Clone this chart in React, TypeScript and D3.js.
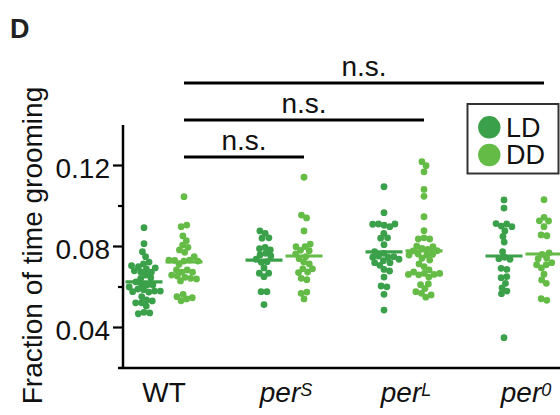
import React, { useMemo } from "react";
import * as d3 from "d3";

// categories
const groups = ["WT", "perS", "perL", "per0"];
const groupBase = ["WT", "per", "per", "per"];
const groupSup = ["", "S", "L", "0"];
const conditions = ["LD", "DD"];

// fraction of time grooming, LD flies
const wtLD = [0.0893, 0.0814, 0.0774, 0.075, 0.0723, 0.0714, 0.0705, 0.07, 0.0694, 0.0689, 0.068, 0.0674, 0.0673, 0.0659, 0.0646, 0.0643, 0.0625, 0.0615, 0.061, 0.061, 0.06, 0.059, 0.0587, 0.058, 0.058, 0.0577, 0.0575, 0.0552, 0.0536, 0.0531, 0.0522, 0.0522, 0.0506, 0.0475, 0.0472, 0.0468];
const perSLD = [0.0877, 0.0865, 0.0841, 0.0843, 0.0783, 0.0789, 0.0796, 0.0758, 0.0766, 0.0753, 0.0737, 0.0722, 0.0725, 0.0694, 0.0668, 0.0668, 0.0651, 0.0577, 0.0577, 0.0513];
const perLLD = [0.1095, 0.0967, 0.0905, 0.0898, 0.0911, 0.091, 0.0911, 0.0865, 0.0841, 0.0843, 0.0809, 0.0774, 0.0766, 0.0747, 0.075, 0.0747, 0.0753, 0.073, 0.072, 0.0737, 0.0707, 0.072, 0.0687, 0.0679, 0.0649, 0.0605, 0.0601, 0.0564, 0.0486];
const per0LD = [0.103, 0.099, 0.0911, 0.0901, 0.0898, 0.0913, 0.0877, 0.085, 0.0822, 0.0774, 0.074, 0.0747, 0.0737, 0.0692, 0.0687, 0.0646, 0.0651, 0.0618, 0.0595, 0.058, 0.0567, 0.035];

// fraction of time grooming, DD flies
const wtDD = [0.1046, 0.0898, 0.0906, 0.0852, 0.0829, 0.0807, 0.0796, 0.0783, 0.0771, 0.075, 0.0733, 0.0731, 0.0728, 0.0733, 0.0728, 0.0712, 0.0684, 0.0673, 0.0673, 0.0684, 0.0659, 0.0654, 0.0648, 0.0643, 0.064, 0.063, 0.0552, 0.0541, 0.0564, 0.0547, 0.0532];
const perSDD = [0.1142, 0.0955, 0.0941, 0.0877, 0.0812, 0.0799, 0.0781, 0.0779, 0.0799, 0.075, 0.0763, 0.074, 0.0723, 0.0714, 0.069, 0.069, 0.0671, 0.0674, 0.0643, 0.0636, 0.0569, 0.0575, 0.0541];
const perLDD = [0.1219, 0.1199, 0.1169, 0.1082, 0.1048, 0.0947, 0.0878, 0.0837, 0.0843, 0.0837, 0.0802, 0.0799, 0.0791, 0.0786, 0.0779, 0.0778, 0.0758, 0.0763, 0.0758, 0.0761, 0.0742, 0.0733, 0.0714, 0.07, 0.0685, 0.0674, 0.066, 0.0662, 0.0649, 0.0667, 0.0662, 0.0667, 0.0611, 0.0615, 0.0592, 0.0577, 0.0569, 0.0561, 0.055];
const per0DD = [0.1031, 0.0944, 0.0927, 0.0926, 0.0898, 0.0857, 0.0853, 0.0761, 0.0769, 0.0743, 0.074, 0.071, 0.0694, 0.071, 0.072, 0.0663, 0.0635, 0.0618, 0.0542, 0.0534];

// median lines
const ldMedians = [0.0625, 0.0733, 0.0773, 0.0753];
const ddMedians = [0.0724, 0.0753, 0.0778, 0.0763];

const yTicks = [0.04, 0.06, 0.08, 0.1, 0.12];
const yTickLabels = ["0.04", "", "0.08", "", "0.12"];

// comparisons (DD vs DD)
const bracketTo = ["per0", "perL", "perS"];
const bracketLabels = ["n.s.", "n.s.", "n.s."];

const COLORS: Record<string, string> = { LD: "#3aa04a", DD: "#64bc47" };
const FONT = "'Liberation Sans', Arial, Helvetica, sans-serif";

const width = 560;
const height = 415;

type Dot = { x: number; y: number; fy: number; cx: number; cond: string };

export default function App() {
  const x = d3.scaleBand().domain(groups).range([104, 584]);
  const sub = d3.scalePoint().domain(conditions).range([-20, 20]);
  const y = d3.scaleLinear().domain([0.02, 0.14]).range([368, 125]);
  const r = 3.4;

  const colX = (g: string, c: string) => (x(g) as number) + x.bandwidth() / 2 + (sub(c) as number);

  const dots = useMemo(() => {
    const series: [string, string, number[]][] = [
      ["WT", "LD", wtLD], ["WT", "DD", wtDD],
      ["perS", "LD", perSLD], ["perS", "DD", perSDD],
      ["perL", "LD", perLLD], ["perL", "DD", perLDD],
      ["per0", "LD", per0LD], ["per0", "DD", per0DD],
    ];
    const out: Dot[] = [];
    series.forEach(([g, c, vals]) => {
      const cx = colX(g, c);
      const nodes: Dot[] = vals.map((v, i) => ({
        x: cx + ((i % 5) - 2) * 1.5,
        y: y(v),
        fy: y(v),
        cx,
        cond: c,
      }));
      const sim = d3
        .forceSimulation(nodes as any)
        .force("x", d3.forceX(cx).strength(0.15))
        .force("collide", d3.forceCollide(2.9))
        .stop();
      for (let i = 0; i < 300; i++) sim.tick();
      out.push(...nodes);
    });
    return out;
  }, []);

  const medians = groups.flatMap((g, i) => [
    { g, c: "LD", v: ldMedians[i] },
    { g, c: "DD", v: ddMedians[i] },
  ]);

  const bracketY = [83, 120, 157];
  const startX = colX("WT", "DD");

  return (
    <svg
      width={width}
      height={height}
      style={{ position: "absolute", left: 0, top: 0, background: "#fff" }}
      fontFamily={FONT}
    >
      <text x={10} y={37.5} fontSize={27} fontWeight="bold" fill="#222">D</text>

      {/* y axis title */}
      <text
        transform={`translate(42,${245.5}) rotate(-90)`}
        textAnchor="middle"
        fontSize={28}
        fill="#111"
      >
        Fraction of time grooming
      </text>

      {/* y axis */}
      <line x1={123} x2={123} y1={y(0.14)} y2={y(0.02) + 1} stroke="#000" strokeWidth={2.5} />
      {yTicks.map((t, i) => (
        <g key={t}>
          <line
            x1={yTickLabels[i] ? 113 : 118}
            x2={123}
            y1={y(t)}
            y2={y(t)}
            stroke="#000"
            strokeWidth={2.2}
          />
          {yTickLabels[i] && (
            <text x={110} y={y(t) + 12} textAnchor="end" fontSize={28} fill="#111">
              {yTickLabels[i]}
            </text>
          )}
        </g>
      ))}

      {/* x axis */}
      <line x1={118} x2={width} y1={y(0.02)} y2={y(0.02)} stroke="#000" strokeWidth={2.5} />
      {groups.map((g, i) => (
        <text
          key={g}
          x={(x(g) as number) + x.bandwidth() / 2 + (groupSup[i] ? 2 : 0)}
          y={402}
          textAnchor="middle"
          fontSize={28}
          fill="#111"
        >
          <tspan fontStyle={groupSup[i] ? "italic" : "normal"}>{groupBase[i]}</tspan>
          {groupSup[i] && (
            <tspan fontSize={18} fontStyle="italic" dy={-6}>{groupSup[i]}</tspan>
          )}
        </text>
      ))}

      {/* dots */}
      {dots.map((d, i) => (
        <circle key={i} cx={d.x} cy={d.fy} r={r} fill={COLORS[d.cond]} />
      ))}

      {/* medians */}
      {medians.map((m) => {
        const cx = colX(m.g, m.c);
        return (
          <line
            key={m.g + m.c}
            x1={cx - 18.5}
            x2={cx + 18.5}
            y1={y(m.v)}
            y2={y(m.v)}
            stroke={COLORS[m.c]}
            strokeWidth={3.2}
          />
        );
      })}

      {/* significance brackets */}
      {bracketTo.map((g, i) => {
        const endX = colX(g, "DD");
        return (
          <g key={g}>
            <line x1={startX} x2={endX} y1={bracketY[i]} y2={bracketY[i]} stroke="#000" strokeWidth={3} />
            <text
              x={(startX + endX) / 2}
              y={bracketY[i] - 7.5}
              textAnchor="middle"
              fontSize={28}
              fill="#111"
            >
              {bracketLabels[i]}
            </text>
          </g>
        );
      })}

      {/* legend */}
      <rect x={467.5} y={104} width={91} height={69.5} fill="#fff" stroke="#333" strokeWidth={2} />
      {conditions.map((c, i) => (
        <g key={c}>
          <circle cx={489.3} cy={127.3 + i * 27.7} r={11.2} fill={COLORS[c]} />
          <text x={506} y={136.5 + i * 27.7} fontSize={27} fill="#111">{c}</text>
        </g>
      ))}
    </svg>
  );
}
